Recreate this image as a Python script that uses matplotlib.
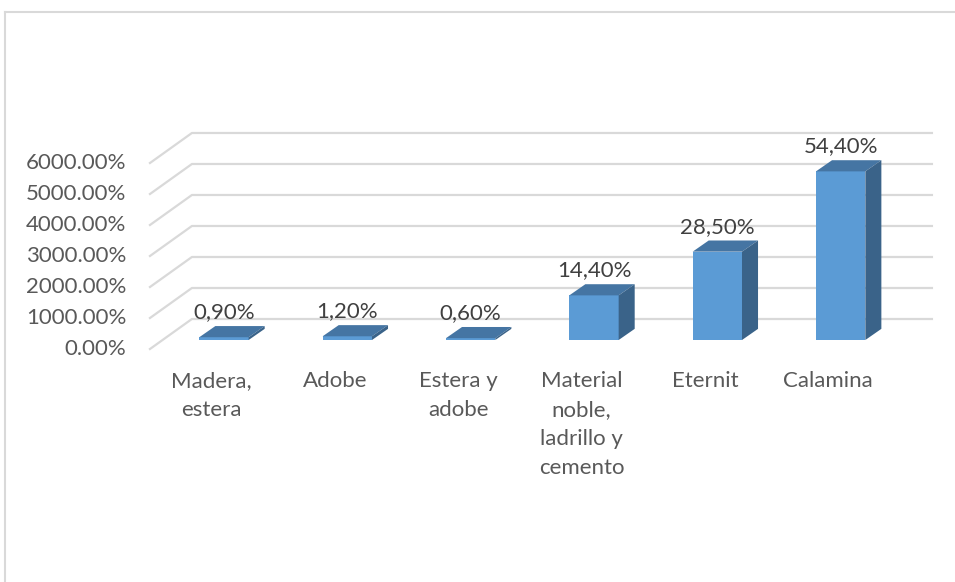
import matplotlib.pyplot as plt
from matplotlib.patches import Polygon
from matplotlib.lines import Line2D

categories = ["Madera,\nestera", "Adobe", "Estera y\nadobe",
              "Material\nnoble,\nladrillo y\ncemento", "Eternit", "Calamina"]
values = [0.90, 1.20, 0.60, 14.40, 28.50, 54.40]
y_ticks = [0, 1000, 2000, 3000, 4000, 5000, 6000]

plt.rcParams['font.family'] = ['Lato', 'DejaVu Sans']

FRONT = "#5b9bd5"
TOP = "#4575a3"
SIDE = "#3a6389"
GRID = "#d9d9d9"

# pseudo-3D geometry (category units on x, percent units on y)
wall_dx, wall_dy = 0.34, 968       # floor depth: front edge -> back wall
bar_x0, bar_y0 = 0.10, 290         # bar front plane, set back from front edge
depth_dx, depth_dy = 0.13, 360     # bar depth
bar_w = 0.40

fig = plt.figure(figsize=(9.55, 5.82), dpi=100)
ax = fig.add_axes([0, 0, 1, 1])
ax.set_xlim(-1.716, 6.027)
ax.set_ylim(-7516, 11258)
ax.axis("off")

# outer chart border
fig.add_artist(Line2D([5 / 955, 5 / 955], [0, 1 - 12 / 582], color=GRID, lw=1.5))
fig.add_artist(Line2D([5 / 955, 1], [1 - 12 / 582, 1 - 12 / 582], color=GRID, lw=1.5))

n = len(categories)
x_left, x_right = -0.5, n - 0.5

# gridlines: diagonal on the left side wall, then along the back wall
for t in y_ticks:
    ax.plot([x_left, x_left + wall_dx, x_right + wall_dx],
            [t, t + wall_dy, t + wall_dy], color=GRID, lw=1.6, zorder=1)
    ax.text(x_left - 0.19, t, f"{t:.2f}%", ha="right", va="center",
            fontsize=16, color="#595959")

for i, (cat, v) in enumerate(zip(categories, values)):
    h = v * 100
    x0 = i - bar_w / 2 + bar_x0
    x1 = x0 + bar_w
    y0 = bar_y0
    y1 = bar_y0 + h
    ax.add_patch(Polygon([(x0, y0), (x1, y0), (x1, y1), (x0, y1)],
                         closed=True, fc=FRONT, ec="none", zorder=3))
    ax.add_patch(Polygon([(x0, y1), (x1, y1), (x1 + depth_dx, y1 + depth_dy),
                          (x0 + depth_dx, y1 + depth_dy)],
                         closed=True, fc=TOP, ec="none", zorder=3))
    ax.add_patch(Polygon([(x1, y0), (x1 + depth_dx, y0 + depth_dy),
                          (x1 + depth_dx, y1 + depth_dy), (x1, y1)],
                         closed=True, fc=SIDE, ec="none", zorder=3))
    label = f"{v:.2f}%".replace(".", ",")
    ax.text((x0 + x1) / 2, y1 + depth_dy + 120, label, ha="center", va="bottom",
            fontsize=16, color="#404040", zorder=4)
    ax.text(i, -720, cat, ha="center", va="top", fontsize=16,
            color="#595959", linespacing=1.56)

fig.savefig("out.png", dpi=100, facecolor="white")
